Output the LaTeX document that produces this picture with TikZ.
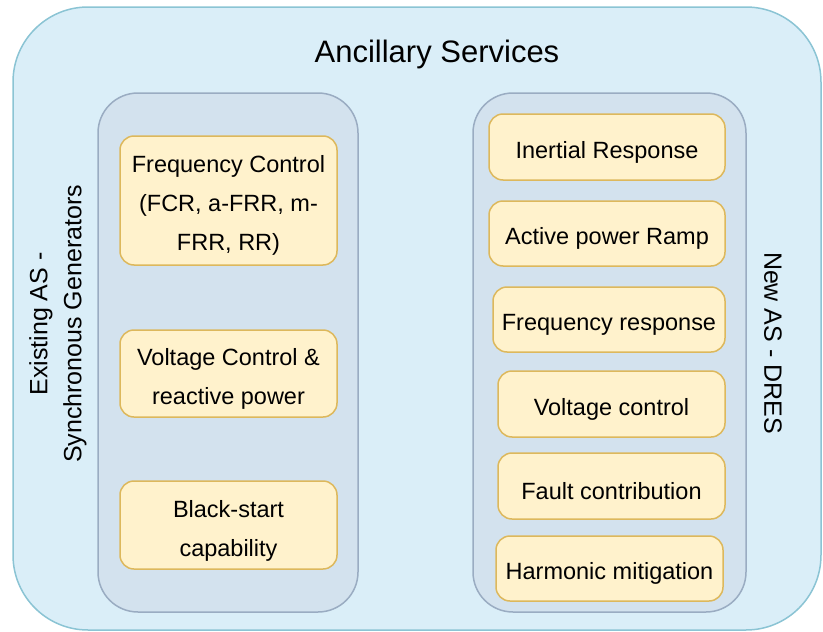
\documentclass[tikz,border=0pt]{standalone}
\usepackage{fontspec}
\setmainfont{Liberation Sans}
\definecolor{outerfill}{HTML}{DAEEF8}
\definecolor{outerdraw}{HTML}{8BC4D4}
\definecolor{innerfill}{HTML}{D3E2EE}
\definecolor{innerdraw}{HTML}{9AACC2}
\definecolor{itemfill}{HTML}{FFF2CC}
\definecolor{itemdraw}{HTML}{DDB85C}
\begin{document}
\begin{tikzpicture}[x=1pt,y=-1pt,
  outerbox/.style={draw=outerdraw,fill=outerfill,line width=1.5pt,rounded corners=75pt},
  innerbox/.style={draw=innerdraw,fill=innerfill,line width=1.5pt,rounded corners=40pt},
  item/.style={draw=itemdraw,fill=itemfill,line width=1.5pt,rounded corners=14pt,inner sep=0pt},
  itemtext/.style={align=center,font=\fontsize{23.5}{39}\selectfont,inner sep=0pt},
  label/.style={align=center,inner sep=0pt},
]
\useasboundingbox (0,0) rectangle (823,632);
% containers
\draw[outerbox] (13,7) rectangle (821,630);
\draw[innerbox] (98,93) rectangle (358,612);
\draw[innerbox] (473,93) rectangle (746,612);
% title and side labels
\node[label,font=\fontsize{31}{37}\selectfont] (title) at (437,54) {Ancillary Services};
\node[label,rotate=90,font=\fontsize{25}{34}\selectfont] (existing) at (58,324)
  {Existing AS -\\Synchronous Generators};
\node[label,rotate=-90,font=\fontsize{25}{30}\selectfont] (newas) at (773,343) {New AS - DRES};
% left items
\node[item,minimum width=217pt,minimum height=129pt] (fc) at (228.5,200.5) {};
\node[itemtext] (fct) at ([yshift=-5pt]fc.center) {Frequency Control\\(FCR, a-FRR, m-\\FRR, RR)};
\node[item,minimum width=217pt,minimum height=87pt] (vcl) at (228.5,373.5) {};
\node[itemtext] (vclt) at ([yshift=-5pt]vcl.center) {Voltage Control \&\\reactive power};
\node[item,minimum width=217pt,minimum height=88pt] (bs) at (228.5,525) {};
\node[itemtext] (bst) at ([yshift=-6pt]bs.center) {Black-start\\capability};
% right items
\node[item,minimum width=236pt,minimum height=66pt] (ir) at (607,147) {};
\node[itemtext] (irt) at ([yshift=-5pt]ir.center) {Inertial Response};
\node[item,minimum width=236pt,minimum height=65pt] (apr) at (607,233.5) {};
\node[itemtext] (aprt) at ([yshift=-5pt]apr.center) {Active power Ramp};
\node[item,minimum width=232pt,minimum height=65pt] (fr) at (609,319.5) {};
\node[itemtext] (frt) at ([yshift=-5pt]fr.center) {Frequency response};
\node[item,minimum width=227pt,minimum height=66pt] (vcr) at (611.5,404) {};
\node[itemtext] (vcrt) at ([yshift=-5pt]vcr.center) {Voltage control};
\node[item,minimum width=227pt,minimum height=66pt] (fault) at (611.5,486) {};
\node[itemtext] (faultt) at ([yshift=-5pt]fault.center) {Fault contribution};
\node[item,minimum width=227pt,minimum height=65pt] (hm) at (609.5,568.5) {};
\node[itemtext] (hmt) at ([yshift=-5pt]hm.center) {Harmonic mitigation};
\end{tikzpicture}
\end{document}
